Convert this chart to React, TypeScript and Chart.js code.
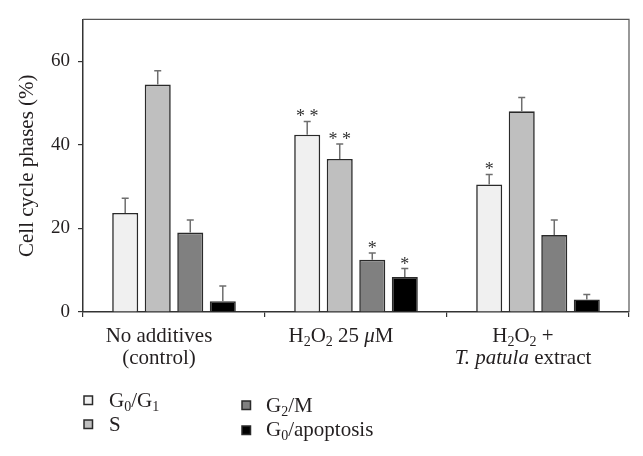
import React, { useEffect, useRef } from 'react';
import { Chart, registerables } from 'chart.js';

Chart.register(...registerables);

// ---------- data ----------
const categories = ['No additives (control)', 'H2O2 25 μM', 'H2O2 + T. patula extract'];
const seriesLabels = ['G0/G1', 'S', 'G2/M', 'G0/apoptosis'];
const g0g1 = [23.7, 42.4, 30.5];
const sPhase = [54.4, 36.6, 48.0];
const g2m = [19.0, 12.5, 18.4];
const apoptosis = [2.6, 8.4, 3.0];
const g0g1Err = [3.5, 3.2, 2.4];
const sPhaseErr = [3.3, 3.6, 3.3];
const g2mErr = [3.0, 1.6, 3.6];
const apoptosisErr = [3.6, 2.0, 1.2];
const g0g1Sig = ['', '**', '*'];
const sPhaseSig = ['', '**', ''];
const g2mSig = ['', '*', ''];
const apoptosisSig = ['', '*', ''];
const yTicks = [0, 20, 40, 60];
const yTitle = 'Cell cycle phases (%)';

type Seg = { t: string; sub?: boolean; it?: boolean };
// rich-text x labels (subscripts / italics)
const xLabelLines: Seg[][][] = [
  [[{ t: 'No additives' }], [{ t: '(control)' }]],
  [[{ t: 'H' }, { t: '2', sub: true }, { t: 'O' }, { t: '2', sub: true }, { t: ' 25 ' }, { t: 'μ', it: true }, { t: 'M' }]],
  [
    [{ t: 'H' }, { t: '2', sub: true }, { t: 'O' }, { t: '2', sub: true }, { t: ' +' }],
    [{ t: 'T. patula', it: true }, { t: ' extract' }],
  ],
];
const legendRich: Seg[][] = [
  [{ t: 'G' }, { t: '0', sub: true }, { t: '/G' }, { t: '1', sub: true }],
  [{ t: 'S' }],
  [{ t: 'G' }, { t: '2', sub: true }, { t: '/M' }],
  [{ t: 'G' }, { t: '0', sub: true }, { t: '/apoptosis' }],
];

// ---------- style ----------
const SERIF = '"Liberation Serif", "Times New Roman", serif';
const TEXT = '#231f20';
const fills = ['#f0f0f0', '#bfbfbf', '#808080', '#000000'];
const EDGE = '#2a2a2a';
const FONT_SIZE = 21;
const SUB_SIZE = 14;

function fontFor(seg: Seg, size: number) {
  const s = seg.sub ? SUB_SIZE : size;
  return `${seg.it ? 'italic ' : ''}${s}px ${SERIF}`;
}
function richWidth(ctx: CanvasRenderingContext2D, segs: Seg[], size: number) {
  let w = 0;
  for (const seg of segs) {
    ctx.font = fontFor(seg, size);
    w += ctx.measureText(seg.t).width;
  }
  return w;
}
function drawRich(ctx: CanvasRenderingContext2D, segs: Seg[], x: number, y: number, size: number, align: 'left' | 'center') {
  let cx = align === 'center' ? x - richWidth(ctx, segs, size) / 2 : x;
  ctx.textAlign = 'left';
  ctx.textBaseline = 'alphabetic';
  ctx.fillStyle = TEXT;
  for (const seg of segs) {
    ctx.font = fontFor(seg, size);
    ctx.fillText(seg.t, cx, seg.sub ? y + 4 : y);
    cx += ctx.measureText(seg.t).width;
  }
}

const errs = [g0g1Err, sPhaseErr, g2mErr, apoptosisErr];
const sigs = [g0g1Sig, sPhaseSig, g2mSig, apoptosisSig];

const decorPlugin = {
  id: 'decor',
  afterDatasetsDraw(chart: any) {
    const ctx: CanvasRenderingContext2D = chart.ctx;
    const y = chart.scales.y;
    ctx.save();
    chart.data.datasets.forEach((ds: any, di: number) => {
      const meta = chart.getDatasetMeta(di);
      meta.data.forEach((bar: any, i: number) => {
        const v = ds.data[i];
        const top = y.getPixelForValue(v);
        const et = y.getPixelForValue(v + errs[di][i]);
        ctx.strokeStyle = '#6e6e6e';
        ctx.lineWidth = 1.5;
        ctx.beginPath();
        ctx.moveTo(bar.x, top);
        ctx.lineTo(bar.x, et);
        ctx.moveTo(bar.x - 3.5, et);
        ctx.lineTo(bar.x + 3.5, et);
        ctx.stroke();
        const s = sigs[di][i];
        if (s) {
          ctx.font = `18px ${SERIF}`;
          ctx.fillStyle = '#333';
          ctx.textAlign = 'center';
          ctx.textBaseline = 'alphabetic';
          ctx.fillText(s.split('').join(' '), bar.x, et + 1);
        }
      });
    });
    ctx.restore();
  },
  afterDraw(chart: any) {
    const ctx: CanvasRenderingContext2D = chart.ctx;
    const { left, right, top, bottom } = chart.chartArea;
    const x = chart.scales.x;
    ctx.save();
    // frame top & right
    ctx.strokeStyle = '#555';
    ctx.lineWidth = 1.2;
    ctx.beginPath();
    ctx.moveTo(left, top);
    ctx.lineTo(right, top);
    ctx.lineTo(right, bottom);
    ctx.stroke();
    // x labels
    categories.forEach((_, i) => {
      const cx = x.getPixelForValue(i) - 15;
      xLabelLines[i].forEach((line, li) => {
        drawRich(ctx, line, cx, bottom + 30 + li * 21.5, FONT_SIZE, 'center');
      });
    });
    // legend
    const pos = [
      { bx: left + 1, tx: left + 26, by: bottom + 84, ty: bottom + 95 },
      { bx: left + 1, tx: left + 26, by: bottom + 108, ty: bottom + 119 },
      { bx: left + 159, tx: left + 183, by: bottom + 89, ty: bottom + 100 },
      { bx: left + 159, tx: left + 183, by: bottom + 114, ty: bottom + 124 },
    ];
    pos.forEach((p, i) => {
      ctx.fillStyle = fills[i];
      ctx.strokeStyle = EDGE;
      ctx.lineWidth = 1.5;
      ctx.fillRect(p.bx, p.by, 8.5, 8.5);
      ctx.strokeRect(p.bx, p.by, 8.5, 8.5);
      drawRich(ctx, legendRich[i], p.tx, p.ty, FONT_SIZE, 'left');
    });
    ctx.restore();
  },
};

export default function App() {
  const ref = useRef<HTMLCanvasElement>(null);
  useEffect(() => {
    if (!ref.current) return;
    const datasets = [g0g1, sPhase, g2m, apoptosis].map((d, i) => ({
      label: seriesLabels[i],
      data: d,
      backgroundColor: fills[i],
      borderColor: EDGE,
      borderWidth: 1.6,
      categoryPercentage: 0.715,
      barPercentage: 0.8,
    }));
    const chart = new Chart(ref.current, {
      type: 'bar',
      data: { labels: categories, datasets },
      options: {
        animation: false,
        responsive: false,
        layout: { padding: { left: 0, top: 14, right: 14, bottom: 0 } },
        plugins: { legend: { display: false }, tooltip: { enabled: false } },
        scales: {
          x: {
            offset: true,
            grid: { display: true, drawOnChartArea: false, drawTicks: true, tickLength: 5, offset: true, color: '#333', lineWidth: 1.2 },
            border: { display: true, color: '#333', width: 1.5 },
            ticks: { display: false },
            afterFit: (s: any) => { s.height = 144; },
          },
          y: {
            min: 0,
            max: 70,
            grid: { display: true, drawOnChartArea: false, drawTicks: true, tickLength: 5, color: '#333', lineWidth: 1.2 },
            border: { display: true, color: '#333', width: 1.5 },
            ticks: { stepSize: 20, padding: 8, color: TEXT, font: { family: SERIF, size: 19 } },
            afterBuildTicks: (s: any) => { s.ticks = yTicks.map((v) => ({ value: v })); },
            title: { display: true, text: yTitle, color: TEXT, font: { family: SERIF, size: 21 }, padding: { top: 15, bottom: 0 } },
            afterFit: (s: any) => { s.width = 83; },
          },
        },
      },
      plugins: [decorPlugin],
    });
    return () => chart.destroy();
  }, []);
  return (
    <div style={{ position: 'absolute', left: 0, top: 0, width: 643, height: 456, background: '#fff' }}>
      <canvas ref={ref} width={643} height={456} style={{ display: 'block' }} />
    </div>
  );
}
